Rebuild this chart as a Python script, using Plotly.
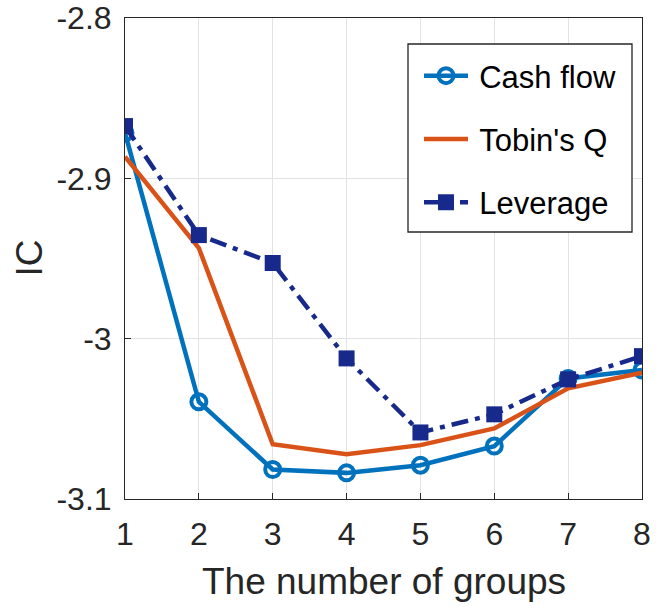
import plotly.graph_objects as go

groups = [1, 2, 3, 4, 5, 6, 7, 8]
cash_flow = [-2.8717, -3.0394, -3.0816, -3.0837, -3.0789, -3.0670, -3.0248, -3.0196]
tobins_q = [-2.8865, -2.9435, -3.0658, -3.0720, -3.0664, -3.0560, -3.0310, -3.0213]
leverage = [-2.8674, -2.9354, -2.9528, -3.0123, -3.0585, -3.0472, -3.0254, -3.0109]

y_ticks = [-3.1, -3.0, -2.9, -2.8]
y_tick_text = ["-3.1", "-3", "-2.9", "-2.8"]

series_names = ["\u2009Cash flow", "\u2009Tobin's Q", "\u2009Leverage"]
x_title = "The number of groups"
y_title = "IC"

FONT = "Liberation Sans, Arial, sans-serif"
INK = "#262626"

# plot area in pixels
W, H = 656, 607
L, R, T, B = 125, 14, 18, 108
PW, PH = W - L - R, H - T - B


def px_x(p):
    return (p - L) / PW


def px_y(p):
    return (H - B - p) / PH


fig = go.Figure()
fig.add_trace(go.Scatter(
    x=groups, y=cash_flow, name=series_names[0], mode="lines+markers",
    line=dict(color="#0072BD", width=4.5),
    marker=dict(symbol="circle-open", size=15, color="#0072BD", line=dict(width=4)),
    legendgroup="a",
))
fig.add_trace(go.Scatter(
    x=groups, y=tobins_q, name=series_names[1], mode="lines",
    line=dict(color="#D95319", width=4.5),
    legendgroup="b",
))
fig.add_trace(go.Scatter(
    x=groups, y=leverage, name=series_names[2], mode="lines+markers",
    line=dict(color="#172A8C", width=4.5, dash="17px,7px,5px,7px"),
    marker=dict(symbol="square", size=16, color="#172A8C", line=dict(width=0)),
    legendgroup="c",
))

axis_common = dict(
    showline=True, linecolor=INK, linewidth=1, mirror=True,
    ticks="inside", ticklen=6, tickcolor=INK,
    showgrid=True, gridcolor="#E3E3E3", gridwidth=1,
    zeroline=False, automargin=False,
    tickfont=dict(family=FONT, size=32, color=INK),
)

fig.update_xaxes(range=[1, 8], tickvals=groups, ticklabelstandoff=7, **axis_common)
fig.update_yaxes(
    range=[-3.1, -2.8], tickvals=y_ticks, ticktext=y_tick_text, ticklabelstandoff=6,
    **axis_common,
)

# axis titles
fig.add_annotation(
    text=x_title, xref="paper", yref="paper", x=0.5, y=px_y(581),
    xanchor="center", yanchor="middle", showarrow=False,
    font=dict(family=FONT, size=37, color=INK),
)
fig.add_annotation(
    text=y_title, xref="paper", yref="paper", x=px_x(29), y=0.5,
    xanchor="center", yanchor="middle", showarrow=False, textangle=-90,
    font=dict(family=FONT, size=37, color=INK),
)

# legend frame
fig.add_shape(
    type="rect", xref="paper", yref="paper", layer="above",
    x0=px_x(408), x1=px_x(632), y0=px_y(232), y1=px_y(44),
    line=dict(color=INK, width=1.3), fillcolor="white",
)

fig.update_layout(
    width=W, height=H,
    margin=dict(l=L, r=R, t=T, b=B),
    paper_bgcolor="white", plot_bgcolor="white",
    font=dict(family=FONT, color=INK),
    legend=dict(
        x=px_x(419), y=px_y(49), xanchor="left", yanchor="top",
        bgcolor="rgba(0,0,0,0)", borderwidth=0,
        font=dict(family=FONT, size=31, color="black"),
        traceorder="grouped", tracegroupgap=20, itemwidth=44,
    ),
)

fig.write_html("out.html")
